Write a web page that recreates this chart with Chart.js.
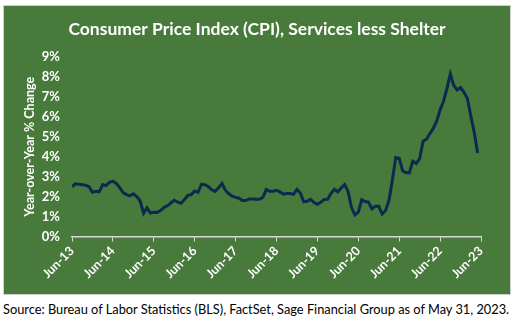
<!DOCTYPE html>
<html>
<head>
<meta charset="utf-8">
<script src="https://cdn.jsdelivr.net/npm/chart.js@4"></script>
<style>
    body { margin: 0; background: #fff; width: 513px; height: 321px; position: relative; overflow: hidden; }
    #box {
        position: absolute; left: 3px; top: 5px; width: 506px; height: 288px;
        border: 1px solid #d0d0d0; background: #487a3c;
    }
    #source {
        position: absolute; left: 3px; top: 301px;
        font-family: Lato, sans-serif; font-size: 12.8px; color: #000; white-space: nowrap;
    }
</style>
</head>
<body>
<div id="box"><canvas id="cpi-chart" width="506" height="288"></canvas></div>
<div id="source">Source: Bureau of Labor Statistics (BLS), FactSet, Sage Financial Group as of May 31, 2023.</div>

<script>
// Monthly YoY % change, Jun-13 through May-23
const cpiValues = [
    2.49, 2.64, 2.62, 2.60, 2.57, 2.50, 2.22, 2.27, 2.24, 2.60, 2.55, 2.72,
    2.78, 2.66, 2.45, 2.20, 2.10, 2.04, 2.14, 2.00, 1.78, 1.16, 1.44, 1.18,
    1.22, 1.21, 1.30, 1.46, 1.54, 1.68, 1.82, 1.72, 1.67, 1.86, 2.06, 2.10,
    2.28, 2.22, 2.62, 2.60, 2.50, 2.34, 2.26, 2.44, 2.66, 2.32, 2.14, 2.02,
    1.96, 1.92, 1.80, 1.80, 1.88, 1.88, 1.87, 1.87, 1.96, 2.36, 2.27, 2.27,
    2.32, 2.24, 2.12, 2.16, 2.16, 2.12, 2.36, 2.18, 1.74, 1.77, 1.86, 1.70,
    1.62, 1.72, 1.86, 1.87, 2.16, 2.37, 2.24, 2.44, 2.61, 2.26, 1.45, 1.08,
    1.22, 1.84, 1.75, 1.72, 1.38, 1.52, 1.52, 1.12, 1.30, 1.80, 2.85, 3.96,
    3.92, 3.30, 3.20, 3.20, 3.78, 3.66, 3.90, 4.78, 4.88, 5.16, 5.42, 5.78,
    6.35, 6.78, 7.42, 8.15, 7.58, 7.35, 7.47, 7.23, 6.92, 6.05, 5.24, 4.19
];
const xTickLabels = ['Jun-13', 'Jun-14', 'Jun-15', 'Jun-16', 'Jun-17', 'Jun-18',
                     'Jun-19', 'Jun-20', 'Jun-21', 'Jun-22', 'Jun-23'];
const yTicks = [0, 1, 2, 3, 4, 5, 6, 7, 8, 9];

const titleText = 'Consumer Price Index (CPI), Services less Shelter';
const yTitleText = 'Year-over-Year % Change';

const points = cpiValues.map((v, i) => ({ x: i, y: v }));

new Chart(document.getElementById('cpi-chart'), {
    type: 'line',
    data: {
        datasets: [{
            data: points,
            borderColor: '#0c2a50',
            borderWidth: 3,
            pointRadius: 0,
            tension: 0,
            fill: false
        }]
    },
    options: {
        responsive: false,
        animation: false,
        plugins: {
            legend: { display: false },
            tooltip: { enabled: false },
            title: {
                display: true,
                text: titleText,
                color: '#fff',
                font: { family: 'Lato', size: 17.5, weight: 'bold', lineHeight: 1.2 },
                padding: { top: 13, bottom: 17 }
            }
        },
        scales: {
            x: {
                type: 'linear',
                min: 0,
                max: (xTickLabels.length - 1) * 12,
                afterFit: s => { s.height = 57.5; },
                afterBuildTicks: s => {
                    s.ticks = xTickLabels.map((_, i) => ({ value: i * 12 }));
                },
                ticks: {
                    color: '#fff',
                    font: { family: 'Lato', size: 12.5, weight: 'bold' },
                    minRotation: 45,
                    maxRotation: 45,
                    padding: 2,
                    autoSkip: false,
                    callback: v => xTickLabels[v / 12]
                },
                grid: { drawOnChartArea: false, drawTicks: true, tickLength: 5, color: '#d9d9d9' },
                border: { display: true, color: '#d9d9d9', width: 1.5 }
            },
            y: {
                min: yTicks[0],
                max: yTicks[yTicks.length - 1],
                afterFit: s => { s.width = 68; },
                afterBuildTicks: s => {
                    s.ticks = yTicks.map(v => ({ value: v }));
                },
                ticks: {
                    color: '#fff',
                    font: { family: 'Lato', size: 13, weight: 'bold' },
                    padding: 12,
                    callback: v => v + '%'
                },
                grid: { display: false, drawTicks: false },
                border: { display: false },
                title: {
                    display: true,
                    text: yTitleText,
                    color: '#fff',
                    font: { family: 'Lato', size: 12.5, weight: 'bold' },
                    padding: { top: 18, bottom: 0 }
                }
            },
            // empty right-hand axis, only reserves the margin right of the plot
            yRight: {
                position: 'right',
                min: yTicks[0],
                max: yTicks[yTicks.length - 1],
                afterFit: s => { s.width = 29; },
                ticks: { display: false },
                grid: { display: false, drawTicks: false },
                border: { display: false }
            }
        }
    }
});
</script>
</body>
</html>
